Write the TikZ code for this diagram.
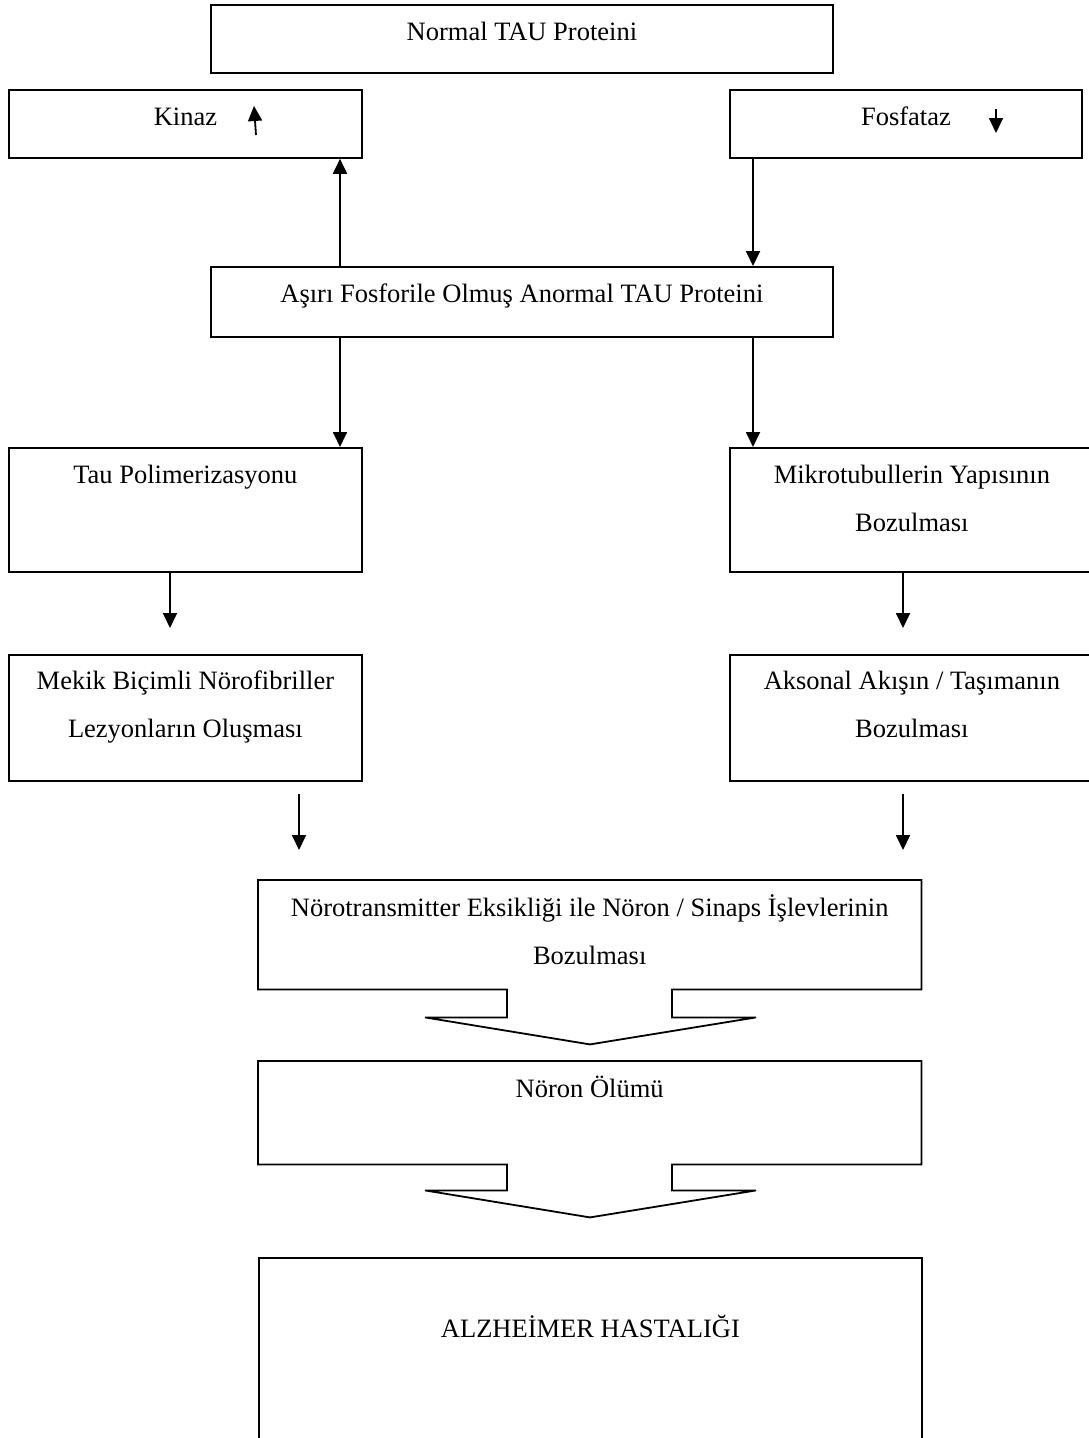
\documentclass[tikz,border=0pt]{standalone}
\usepackage{fontspec}
\setmainfont{Liberation Serif}
\usetikzlibrary{arrows.meta,calc}

\begin{document}
\begin{tikzpicture}[x=1pt,y=-1pt,
  box/.style={draw, line width=1.8pt, inner sep=0pt, anchor=north west},
  frame/.style={inner sep=0pt, anchor=north west},
  txt/.style={anchor=base, inner sep=0pt, align=center,
              font=\fontsize{26.5}{48}\selectfont},
  arr/.style={line width=1.8pt, -{Triangle[length=15pt,width=14pt]}},
  outline/.style={line width=1.8pt, line join=miter}]
\clip (0,0) rectangle (1089,1438);
\fill[white] (0,0) rectangle (1089,1438);

% vertical guide positions of the connectors
\coordinate (cl) at (340,0);
\coordinate (cr) at (753,0);
\coordinate (ml) at (170,0);
\coordinate (mr) at (903,0);
\coordinate (bl) at (299,0);
\coordinate (nl) at (507,0);
\coordinate (nr) at (672,0);

% boxes
\node[box, minimum width=622pt, minimum height=68pt]  (normal)   at (210,4)   {};
\node[box, minimum width=353pt, minimum height=68pt]  (kinaz)    at (8,89)    {};
\node[box, minimum width=352pt, minimum height=68pt]  (fosfataz) at (729,89)  {};
\node[box, minimum width=622pt, minimum height=70pt]  (asiri)    at (210,266) {};
\node[box, minimum width=353pt, minimum height=124pt] (tau)      at (8,447)   {};
\node[box, minimum width=364pt, minimum height=124pt] (mikro)    at (729,447) {};
\node[box, minimum width=353pt, minimum height=126pt] (mekik)    at (8,654)   {};
\node[box, minimum width=364pt, minimum height=126pt] (akson)    at (729,654) {};
\node[frame, minimum width=663pt, minimum height=109pt] (nt)     at (258,880) {};
\node[frame, minimum width=663pt, minimum height=103pt] (olum)   at (258,1061) {};
\node[box, minimum width=663pt, minimum height=200pt] (alz)      at (258,1257) {};

% box texts (two-line texts are placed by the baseline of their last line)
\node[txt] at ($(normal.north)+(0,36)$)   {Normal TAU Proteini};
\node[txt] at ($(kinaz.north)+(0,36)$)    {Kinaz};
\node[txt] at ($(fosfataz.north)+(0,36)$) {Fosfataz};
\node[txt] at ($(asiri.north)+(0,36)$)    {Aşırı Fosforile Olmuş Anormal TAU Proteini};
\node[txt] at ($(tau.north)+(0,36)$)      {Tau Polimerizasyonu};
\node[txt] at ($(mikro.north)+(0,84)$)    {Mikrotubullerin Yapısının\\Bozulması};
\node[txt] at ($(mekik.north)+(0,83)$)    {Mekik Biçimli Nörofibriller\\Lezyonların Oluşması};
\node[txt] at ($(akson.north)+(0,83)$)    {Aksonal Akışın / Taşımanın\\Bozulması};
\node[txt] at ($(nt.north)+(0,84)$)       {Nörotransmitter Eksikliği ile Nöron / Sinaps İşlevlerinin\\Bozulması};
\node[txt] at ($(olum.north)+(0,36)$)     {Nöron Ölümü};
\node[txt] at ($(alz.north)+(0,80)$)      {ALZHEİMER HASTALIĞI};

% up / down marks beside the enzyme names
\coordinate (kupa) at (256,135);
\coordinate (kupb) at (254,106);
\coordinate (fdna) at (996,109);
\coordinate (fdnb) at (996,133);
\draw[arr] (kupa) -- (kupb);
\draw[arr] (fdna) -- (fdnb);

% connectors
\draw[arr] (asiri.north -| cl) -- (kinaz.south -| cl);
\draw[arr] (fosfataz.south -| cr) -- (asiri.north -| cr);
\draw[arr] (asiri.south -| cl) -- (tau.north -| cl);
\draw[arr] (asiri.south -| cr) -- (mikro.north -| cr);
\draw[arr, shorten >=26pt] (tau.south -| ml) -- (mekik.north -| ml);
\draw[arr, shorten >=26pt] (mikro.south -| mr) -- (akson.north -| mr);
\draw[arr, shorten <=12pt, shorten >=30pt] (mekik.south -| bl) -- (nt.north -| bl);
\draw[arr, shorten <=12pt, shorten >=30pt] (akson.south -| mr) -- (nt.north -| mr);

% boxes with a broad arrow leaving their lower edge
\draw[outline] (nt.north west) -- (nt.north east) -- (nt.south east)
  -- (nt.south -| nr) -- ++(0,28) -- ++(84,0) -- ++(-166,27) -- ++(-165,-27)
  -- ++(82,0) -- (nt.south -| nl) -- (nt.south west) -- cycle;
\draw[outline] (olum.north west) -- (olum.north east) -- (olum.south east)
  -- (olum.south -| nr) -- ++(0,26) -- ++(84,0) -- ++(-166,27) -- ++(-165,-27)
  -- ++(82,0) -- (olum.south -| nl) -- (olum.south west) -- cycle;
\end{tikzpicture}
\end{document}
